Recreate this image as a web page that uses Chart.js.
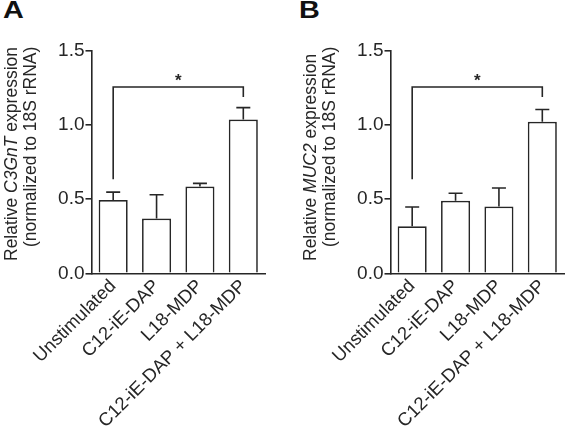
<!DOCTYPE html>
<html>
<head>
<meta charset="utf-8">
<script src="https://cdn.jsdelivr.net/npm/chart.js@4"></script>
<style>
  html, body { margin:0; padding:0; background:#fff; }
  body { width:566px; height:429px; position:relative; overflow:hidden; font-family:'Liberation Sans', Arial, sans-serif; }
  .panel { position:absolute; top:0; }
  .letter { position:absolute; top:-4px; font-weight:bold; font-size:24px; color:#111; transform:scaleX(1.2); transform-origin:left top; }
</style>
</head>
<body>
<div class="letter" style="left:3px">A</div>
<div class="letter" style="left:299px">B</div>
<canvas id="chartA" class="panel" style="left:0px" width="267" height="429"></canvas>
<canvas id="chartB" class="panel" style="left:299px" width="267" height="429"></canvas>
<script>
// categories / values
const categories = ['Unstimulated', 'C12-iE-DAP', 'L18-MDP', 'C12-iE-DAP + L18-MDP'];
const c3gntMean = [0.494, 0.37, 0.585, 1.038];
const c3gntErr  = [0.054, 0.16, 0.022, 0.08];
const muc2Mean  = [0.317, 0.489, 0.45, 1.022];
const muc2Err   = [0.13, 0.051, 0.126, 0.083];
const yTicks    = [0, 0.5, 1.0, 1.5];
// significance bracket: [level, left leg end, right leg end]
const bracketA  = [1.257, 0.635, 1.19];
const bracketB  = [1.257, 0.635, 1.19];

const INK = '#262626';
const FONT = "'Liberation Sans', Arial, sans-serif";

// upper error bars
const errorBars = {
  id:'errorBars',
  afterDatasetsDraw(chart, args, opts){
    const ctx = chart.ctx, y = chart.scales.y;
    const meta = chart.getDatasetMeta(0);
    ctx.save();
    ctx.strokeStyle = INK; ctx.lineWidth = 1.6;
    meta.data.forEach((bar, i) => {
      const top = y.getPixelForValue(opts.means[i] + opts.errs[i]);
      ctx.beginPath();
      ctx.moveTo(bar.x, bar.y); ctx.lineTo(bar.x, top);
      ctx.moveTo(bar.x - 7, top); ctx.lineTo(bar.x + 7, top);
      ctx.stroke();
    });
    ctx.restore();
  }
};

// bracket with star between first and last bar
const sigBracket = {
  id:'sigBracket',
  afterDraw(chart, args, opts){
    const ctx = chart.ctx, y = chart.scales.y;
    const meta = chart.getDatasetMeta(0);
    const x1 = meta.data[0].x, x2 = meta.data[meta.data.length - 1].x;
    const [lvl, l1, l2] = opts.bracket;
    const yy = y.getPixelForValue(lvl);
    ctx.save();
    ctx.strokeStyle = INK; ctx.lineWidth = 1.6;
    ctx.beginPath();
    ctx.moveTo(x1, y.getPixelForValue(l1));
    ctx.lineTo(x1, yy); ctx.lineTo(x2, yy);
    ctx.lineTo(x2, y.getPixelForValue(l2));
    ctx.stroke();
    ctx.fillStyle = INK;
    ctx.font = 'bold 17px ' + FONT;
    ctx.textAlign = 'center'; ctx.textBaseline = 'alphabetic';
    ctx.fillText('*', (x1 + x2) / 2, yy - 1.5);
    ctx.restore();
  }
};

// two-line y title with an italic gene name
const yTitle = {
  id:'yTitle',
  afterDraw(chart, args, opts){
    const ctx = chart.ctx;
    ctx.save();
    ctx.fillStyle = INK;
    ctx.textAlign = 'left'; ctx.textBaseline = 'alphabetic';
    opts.lines.forEach((parts, li) => {
      ctx.save();
      ctx.translate(opts.x[li], opts.start[li]);
      ctx.rotate(-Math.PI / 2);
      let cx = 0;
      parts.forEach(([txt, italic]) => {
        ctx.font = (italic ? 'italic ' : '') + '17.5px ' + FONT;
        ctx.fillText(txt, cx, 0);
        cx += ctx.measureText(txt).width;
      });
      ctx.restore();
    });
    ctx.restore();
  }
};

function makePanel(id, means, errs, gene, bracket){
  return new Chart(document.getElementById(id), {
    type:'bar',
    data:{ labels:categories, datasets:[{ data:means, backgroundColor:'#fff', borderColor:INK, borderWidth:1.7, barPercentage:0.67, categoryPercentage:1 }] },
    options:{
      responsive:false, animation:false, devicePixelRatio:1,
      layout:{ padding:{ top:51, right:2, left:0, bottom:0 } },
      plugins:{
        legend:{ display:false }, tooltip:{ enabled:false },
        errorBars:{ means, errs },
        sigBracket:{ bracket },
        yTitle:{
          lines:[ [['Relative ', false], [gene, true], [' expression', false]], [['(normalized to 18S rRNA)', false]] ],
          x:[16.5, 35.5], start:[261, 247]
        }
      },
      scales:{
        x:{
          grid:{ display:false, drawTicks:false },
          border:{ display:true, color:INK, width:1.6 },
          ticks:{ color:INK, font:{ family:FONT, size:18.5 }, minRotation:45, maxRotation:45, autoSkip:false, padding:2 },
          afterFit(s){ s.height = 429 - 273.3; s.paddingLeft = 0; s.paddingRight = 0; }
        },
        y:{
          min:0, max:1.5,
          grid:{ display:true, drawOnChartArea:false, drawTicks:true, tickLength:6, color:INK, lineWidth:1.6 },
          border:{ display:true, color:INK, width:1.6 },
          ticks:{ color:INK, font:{ family:FONT, size:19 }, padding:1, stepSize:0.5, callback:v => yTicks.includes(v) ? v.toFixed(1) : '' },
          afterFit(s){ s.width = 91.5; s.paddingTop = 0; s.paddingBottom = 0; }
        }
      }
    },
    plugins:[errorBars, sigBracket, yTitle]
  });
}

makePanel('chartA', c3gntMean, c3gntErr, 'C3GnT', bracketA);
makePanel('chartB', muc2Mean, muc2Err, 'MUC2', bracketB);
</script>
</body>
</html>
